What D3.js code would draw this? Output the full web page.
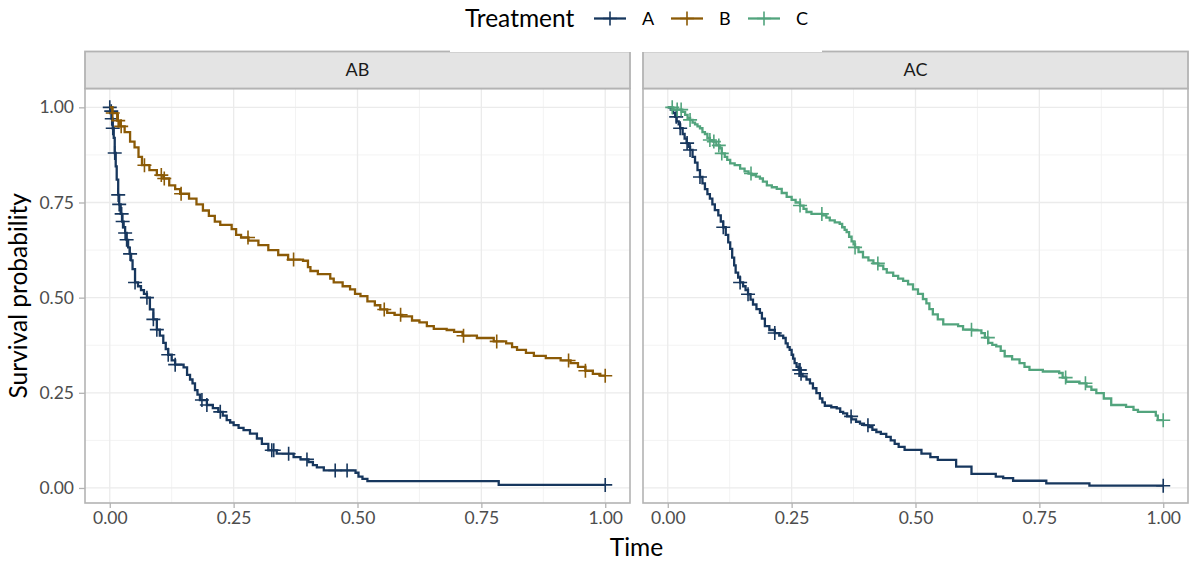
<!DOCTYPE html>
<html><head><meta charset="utf-8">
<script src="https://cdn.jsdelivr.net/npm/d3@7"></script>
<style>body{margin:0;background:#fff}svg{display:block;font-family:Lato,"Noto Sans",sans-serif}</style>
</head><body><svg id="c" width="1195" height="561"></svg>
<script>
// ---------------- data ----------------
const facets = ["AB", "AC"];
const treatments = ["A", "B", "C"];
const treatmentColors = ["#17375e", "#8b5a06", "#52a47d"];
const xTicks = [0, 0.25, 0.5, 0.75, 1];
const xTickLabels = ["0.00", "0.25", "0.50", "0.75", "1.00"];
const yTicks = [0, 0.25, 0.5, 0.75, 1];
const yTickLabels = ["0.00", "0.25", "0.50", "0.75", "1.00"];
const xTitle = "Time";
const yTitle = "Survival probability";
const legendTitle = "Treatment";

// Facet AB, treatment A
const abA_time = [0,0.002,0.004,0.006,0.008,0.010,0.012,0.014,0.017,0.019,0.022,0.025,0.028,0.031,0.034,0.037,0.040,0.043,0.046,0.051,0.057,0.063,0.069,0.075,0.081,0.088,0.095,0.101,0.108,0.113,0.118,0.125,0.132,0.149,0.156,0.162,0.167,0.172,0.177,0.182,0.196,0.208,0.219,0.228,0.236,0.243,0.250,0.260,0.270,0.283,0.297,0.307,0.320,0.337,0.371,0.385,0.401,0.410,0.418,0.432,0.496,0.502,0.510,0.520,0.785];
const abA_surv = [1,0.99,0.97,0.945,0.92,0.88,0.845,0.81,0.77,0.745,0.72,0.70,0.685,0.67,0.652,0.632,0.615,0.598,0.575,0.54,0.53,0.52,0.51,0.50,0.469,0.443,0.416,0.40,0.381,0.365,0.35,0.335,0.324,0.317,0.297,0.285,0.275,0.257,0.245,0.231,0.218,0.21,0.20,0.19,0.178,0.172,0.165,0.158,0.152,0.143,0.13,0.116,0.099,0.09,0.081,0.075,0.068,0.06,0.054,0.046,0.040,0.030,0.024,0.018,0.008];
const abA_cens = [0,0.003,0.004,0.006,0.010,0.017,0.019,0.024,0.026,0.031,0.034,0.041,0.051,0.075,0.088,0.095,0.118,0.132,0.186,0.196,0.223,0.327,0.331,0.361,0.398,0.455,0.479,1.0];
// Facet AB, treatment B
const abB_time = [0,0.005,0.015,0.021,0.030,0.041,0.050,0.058,0.065,0.080,0.095,0.108,0.120,0.132,0.142,0.160,0.175,0.188,0.200,0.212,0.223,0.246,0.255,0.265,0.280,0.300,0.320,0.340,0.360,0.390,0.400,0.405,0.420,0.445,0.452,0.470,0.485,0.495,0.506,0.520,0.535,0.546,0.560,0.575,0.590,0.610,0.625,0.640,0.654,0.680,0.695,0.712,0.741,0.775,0.800,0.812,0.822,0.840,0.856,0.880,0.910,0.930,0.945,0.960,0.975,0.990];
const abB_surv = [1,0.985,0.965,0.95,0.935,0.91,0.895,0.87,0.848,0.835,0.822,0.813,0.795,0.785,0.773,0.76,0.745,0.729,0.715,0.70,0.691,0.68,0.665,0.658,0.65,0.638,0.625,0.612,0.60,0.597,0.58,0.57,0.562,0.55,0.54,0.53,0.522,0.51,0.504,0.49,0.48,0.469,0.46,0.455,0.451,0.44,0.435,0.425,0.418,0.415,0.41,0.40,0.394,0.385,0.38,0.37,0.363,0.355,0.347,0.341,0.335,0.328,0.318,0.308,0.30,0.295];
const abB_cens = [0.006,0.017,0.023,0.07,0.104,0.11,0.144,0.279,0.371,0.554,0.587,0.714,0.781,0.926,0.96,1.0];
// Facet AC, treatment A
const acA_time = [0,0.006,0.011,0.015,0.018,0.022,0.025,0.030,0.034,0.038,0.042,0.045,0.050,0.055,0.060,0.065,0.070,0.075,0.080,0.085,0.090,0.095,0.102,0.107,0.112,0.117,0.122,0.126,0.130,0.134,0.137,0.142,0.146,0.152,0.157,0.162,0.167,0.172,0.179,0.186,0.190,0.196,0.205,0.216,0.225,0.233,0.238,0.242,0.246,0.250,0.253,0.256,0.260,0.264,0.268,0.272,0.280,0.287,0.293,0.300,0.307,0.312,0.317,0.330,0.341,0.348,0.354,0.362,0.371,0.380,0.388,0.396,0.405,0.413,0.421,0.430,0.441,0.450,0.458,0.466,0.478,0.512,0.530,0.545,0.582,0.613,0.662,0.677,0.697,0.764,0.851];
const acA_surv = [1,0.994,0.985,0.975,0.963,0.955,0.945,0.93,0.918,0.906,0.896,0.888,0.87,0.855,0.835,0.817,0.80,0.785,0.772,0.76,0.745,0.73,0.716,0.70,0.685,0.665,0.645,0.628,0.605,0.585,0.566,0.553,0.54,0.53,0.52,0.509,0.495,0.482,0.47,0.46,0.445,0.425,0.415,0.407,0.40,0.394,0.38,0.37,0.363,0.35,0.34,0.328,0.318,0.31,0.30,0.293,0.285,0.275,0.262,0.249,0.235,0.225,0.216,0.212,0.209,0.20,0.196,0.188,0.18,0.174,0.169,0.165,0.16,0.153,0.147,0.142,0.134,0.125,0.116,0.108,0.10,0.09,0.081,0.074,0.056,0.037,0.03,0.026,0.019,0.012,0.006];
const acA_cens = [0.017,0.025,0.039,0.045,0.065,0.112,0.146,0.162,0.216,0.265,0.267,0.269,0.37,0.404,1.0];
// Facet AC, treatment C
const acC_time = [0,0.011,0.028,0.035,0.040,0.045,0.050,0.055,0.060,0.065,0.070,0.075,0.080,0.085,0.092,0.098,0.105,0.109,0.115,0.120,0.126,0.135,0.146,0.155,0.163,0.169,0.178,0.186,0.192,0.200,0.210,0.220,0.230,0.240,0.250,0.258,0.267,0.274,0.280,0.290,0.312,0.320,0.327,0.337,0.347,0.352,0.357,0.361,0.366,0.371,0.375,0.378,0.385,0.394,0.405,0.415,0.425,0.435,0.442,0.455,0.465,0.475,0.485,0.495,0.505,0.515,0.522,0.528,0.535,0.545,0.556,0.586,0.596,0.615,0.633,0.640,0.647,0.655,0.663,0.672,0.680,0.695,0.710,0.720,0.730,0.757,0.790,0.797,0.804,0.831,0.845,0.855,0.865,0.880,0.895,0.925,0.940,0.949,0.985,0.989];
const acC_surv = [1,0.994,0.988,0.98,0.972,0.967,0.96,0.955,0.95,0.945,0.935,0.93,0.92,0.914,0.91,0.90,0.892,0.879,0.87,0.862,0.853,0.848,0.839,0.832,0.826,0.822,0.818,0.813,0.805,0.795,0.79,0.786,0.775,0.765,0.757,0.75,0.742,0.733,0.725,0.72,0.716,0.71,0.703,0.698,0.694,0.685,0.678,0.672,0.66,0.648,0.64,0.632,0.62,0.606,0.598,0.59,0.584,0.575,0.566,0.557,0.55,0.544,0.535,0.522,0.51,0.496,0.485,0.47,0.456,0.443,0.43,0.425,0.416,0.414,0.407,0.395,0.381,0.376,0.372,0.36,0.346,0.338,0.328,0.318,0.31,0.306,0.302,0.29,0.279,0.275,0.266,0.258,0.249,0.235,0.218,0.213,0.205,0.20,0.19,0.178];
const acC_cens = [0.009,0.019,0.027,0.045,0.085,0.093,0.103,0.109,0.168,0.267,0.311,0.378,0.424,0.613,0.646,0.803,0.843,1.0];

// ---------------- assembly ----------------
const panelSeries = [
  [{trt: "A", time: abA_time, surv: abA_surv, cens: abA_cens},
   {trt: "B", time: abB_time, surv: abB_surv, cens: abB_cens}],
  [{trt: "A", time: acA_time, surv: acA_surv, cens: acA_cens},
   {trt: "C", time: acC_time, surv: acC_surv, cens: acC_cens}]
];
const color = d3.scaleOrdinal().domain(treatments).range(treatmentColors);

const svg = d3.select("#c");
const panelLeft = [85, 643];
const panelW = 545;
const stripTop = 51.5, stripBot = 88.5, plotTop = 88.5, plotBot = 503;

const y = d3.scaleLinear().domain([-0.0395, 1.0495]).range([plotBot, plotTop]);

function survAt(s, t) {
  let v = s.surv[0];
  for (let i = 0; i < s.time.length; i++) { if (s.time[i] <= t) v = s.surv[i]; }
  return v;
}

const gridMajor = "#ebebeb", gridMinor = "#f3f3f3", borderCol = "#b3b3b3";
const line = d3.line().curve(d3.curveStepAfter);
const plus = "M-7,0H7M0,-7V7";
const tickFont = 17.5, titleFont = 24.5;

facets.forEach((f, fi) => {
  const x0 = panelLeft[fi];
  const x = d3.scaleLinear().domain([-0.05, 1.05]).range([x0, x0 + panelW]);
  const g = svg.append("g");
  const minor = [0.125, 0.375, 0.625, 0.875];
  g.selectAll(".vmin").data(minor).enter().append("line")
    .attr("x1", d => x(d)).attr("x2", d => x(d)).attr("y1", plotTop).attr("y2", plotBot)
    .attr("stroke", gridMinor).attr("stroke-width", 1);
  g.selectAll(".hmin").data(minor).enter().append("line")
    .attr("y1", d => y(d)).attr("y2", d => y(d)).attr("x1", x0).attr("x2", x0 + panelW)
    .attr("stroke", gridMinor).attr("stroke-width", 1);
  g.selectAll(".vmaj").data(xTicks).enter().append("line")
    .attr("x1", d => x(d)).attr("x2", d => x(d)).attr("y1", plotTop).attr("y2", plotBot)
    .attr("stroke", gridMajor).attr("stroke-width", 1.3);
  g.selectAll(".hmaj").data(yTicks).enter().append("line")
    .attr("y1", d => y(d)).attr("y2", d => y(d)).attr("x1", x0).attr("x2", x0 + panelW)
    .attr("stroke", gridMajor).attr("stroke-width", 1.3);

  panelSeries[fi].forEach(s => {
    const pts = s.time.map((t, i) => [x(t), y(s.surv[i])]);
    pts.push([x(1), y(s.surv[s.surv.length - 1])]);
    g.append("path").attr("d", line(pts)).attr("fill", "none")
      .attr("stroke", color(s.trt)).attr("stroke-width", 2.3);
    g.selectAll(null).data(s.cens).enter().append("path")
      .attr("transform", t => `translate(${x(t)},${y(survAt(s, t))})`)
      .attr("d", plus).attr("stroke", color(s.trt)).attr("stroke-width", 1.6).attr("fill", "none");
  });

  g.append("rect").attr("x", x0).attr("y", plotTop).attr("width", panelW).attr("height", plotBot - plotTop)
    .attr("fill", "none").attr("stroke", borderCol).attr("stroke-width", 1.6);
  g.append("rect").attr("x", x0).attr("y", stripTop).attr("width", panelW).attr("height", stripBot - stripTop)
    .attr("fill", "#e4e4e4").attr("stroke", borderCol).attr("stroke-width", 1.8);
  g.append("text").attr("x", x0 + panelW / 2).attr("y", (stripTop + stripBot) / 2)
    .attr("dy", "0.36em").attr("text-anchor", "middle").attr("font-size", 18).attr("fill", "#1a1a1a").text(f);

  const xa = g.append("g").attr("transform", `translate(0,${plotBot})`)
    .call(d3.axisBottom(x).tickValues(xTicks).tickFormat((d, i) => xTickLabels[i]).tickSize(5).tickPadding(4));
  xa.select(".domain").remove();
  xa.selectAll(".tick line").attr("stroke", borderCol).attr("stroke-width", 1.3);
  xa.selectAll(".tick text").attr("font-size", tickFont).attr("fill", "#4d4d4d").attr("font-family", "Lato");

  if (fi === 0) {
    const ya = g.append("g").attr("transform", `translate(${x0},0)`)
      .call(d3.axisLeft(y).tickValues(yTicks).tickFormat((d, i) => yTickLabels[i]).tickSize(6).tickPadding(5));
    ya.select(".domain").remove();
    ya.selectAll(".tick line").attr("stroke", borderCol).attr("stroke-width", 1.3);
    ya.selectAll(".tick text").attr("font-size", tickFont).attr("fill", "#4d4d4d").attr("font-family", "Lato");
  }
});

svg.append("text").attr("x", (panelLeft[0] + panelLeft[1] + panelW) / 2).attr("y", 556)
  .attr("text-anchor", "middle").attr("font-size", titleFont).attr("fill", "#000").text(xTitle);
svg.append("text").attr("transform", `translate(27,${(plotTop + plotBot) / 2}) rotate(-90)`)
  .attr("text-anchor", "middle").attr("font-size", titleFont).attr("fill", "#000").text(yTitle);

const lg = svg.append("g");
lg.append("rect").attr("x", 450).attr("y", 0).attr("width", 372).attr("height", 52).attr("fill", "#fff");
lg.append("text").attr("x", 465).attr("y", 27).attr("font-size", titleFont).attr("fill", "#000").text(legendTitle);
const keyX = [594, 671, 748];
treatments.forEach((t, i) => {
  const kx = keyX[i];
  lg.append("line").attr("x1", kx).attr("x2", kx + 32).attr("y1", 18.5).attr("y2", 18.5)
    .attr("stroke", color(t)).attr("stroke-width", 2.3);
  lg.append("path").attr("transform", `translate(${kx + 16},18.5)`).attr("d", plus)
    .attr("stroke", color(t)).attr("stroke-width", 1.6).attr("fill", "none");
  lg.append("text").attr("x", kx + 48).attr("y", 18.5).attr("dy", "0.36em").attr("font-size", 18)
    .attr("fill", "#000").text(t);
});
</script></body></html>
